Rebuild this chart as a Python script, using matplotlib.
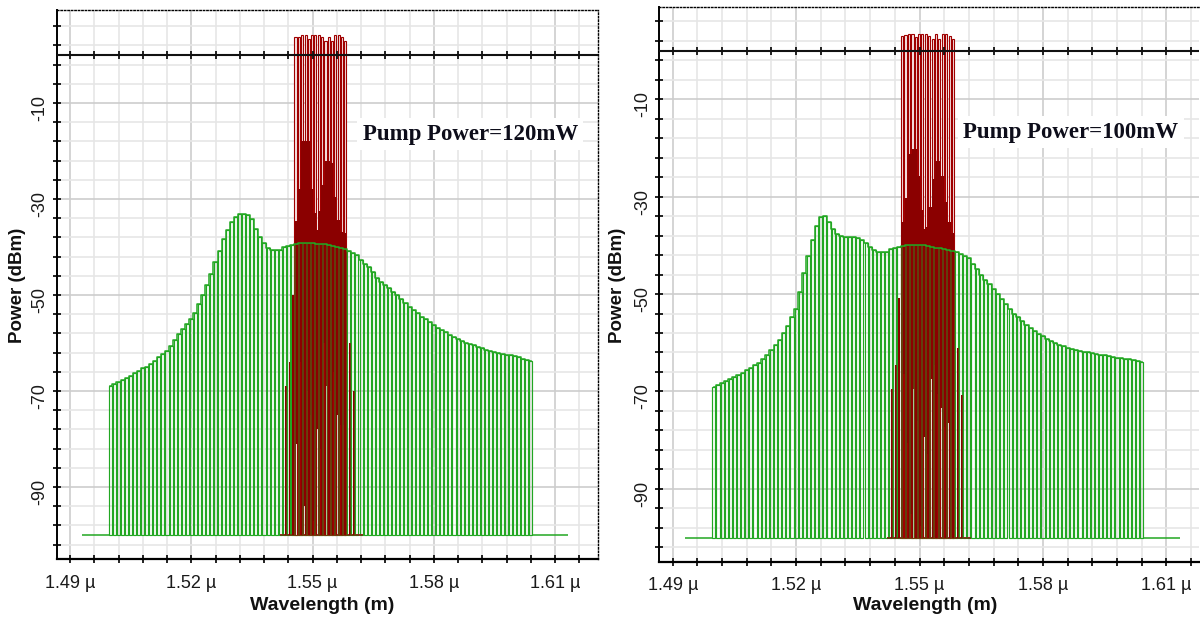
import numpy as np
import matplotlib.pyplot as plt
from matplotlib.transforms import ScaledTranslation

plt.rcParams['font.family'] = ['Liberation Sans', 'DejaVu Sans']

# noise floor bins (1 nm resolution), dBm
noise_wl = 1.500 + 0.001 * np.arange(105)
noise_120 = [-69.0, -68.6, -68.2, -67.8, -67.3, -66.8, -66.3, -65.8, -65.3, -64.9,
             -64.3, -63.7, -63.0, -62.3, -61.7, -60.6, -59.4, -58.2, -57.0, -56.0,
             -55.0, -53.7, -51.9, -50.1, -47.9, -45.6, -43.2, -40.8, -38.3, -36.5,
             -34.8, -33.8, -33.2, -33.1, -33.4, -34.1, -36.3, -38.0, -39.2, -40.2,
             -40.6, -40.6, -40.6, -40.1, -39.8, -39.5, -39.3, -39.1, -39.1, -39.2,
             -39.2, -39.3, -39.3, -39.4, -39.6, -39.8, -40.0, -40.2, -40.5, -40.8,
             -41.2, -41.6, -42.7, -43.6, -44.2, -45.2, -46.5, -47.2, -47.9, -48.6,
             -49.3, -50.0, -50.8, -51.6, -52.4, -53.1, -53.8, -54.5, -55.1, -55.7,
             -56.3, -56.8, -57.3, -57.8, -58.3, -58.7, -59.1, -59.5, -59.9, -60.2,
             -60.5, -60.8, -61.1, -61.4, -61.6, -61.8, -62.0, -62.2, -62.4, -62.6,
             -62.8, -63.0, -63.3, -63.5, -63.8]
noise_100 = [-69.0, -68.6, -68.2, -67.8, -67.4, -67.0, -66.6, -66.3, -65.7, -65.1,
             -64.6, -64.1, -63.4, -62.5, -61.5, -60.5, -59.5, -58.1, -56.5, -54.8,
             -53.0, -49.6, -45.6, -42.2, -38.9, -36.0, -34.2, -33.9, -35.2, -36.7,
             -37.6, -38.0, -38.2, -38.3, -38.3, -38.4, -38.9, -39.5, -40.3, -41.0,
             -41.3, -41.3, -41.3, -40.8, -40.5, -40.3, -40.1, -39.9, -39.9, -39.9,
             -39.9, -40.0, -40.1, -40.3, -40.5, -40.6, -40.8, -41.0, -41.2, -41.3,
             -41.8, -42.1, -42.7, -43.8, -44.9, -46.0, -47.1, -47.9, -48.9, -50.0,
             -51.1, -52.1, -53.1, -54.0, -54.8, -55.6, -56.4, -57.0, -57.6, -58.2,
             -58.7, -59.2, -59.6, -60.0, -60.4, -60.7, -61.0, -61.2, -61.4, -61.6,
             -61.8, -62.0, -62.1, -62.3, -62.5, -62.6, -62.8, -62.9, -63.1, -63.2,
             -63.3, -63.4, -63.5, -63.7, -63.9]
floor_level = -100
floor_span = [1.4930, 1.6132]

# WDM channels (um) and their peaks (dBm)
ch_wl = [1.5458, 1.5466, 1.5474, 1.5483, 1.5491, 1.5499, 1.5507, 1.5515,
         1.5524, 1.5532, 1.5540, 1.5548, 1.5556, 1.5565, 1.5573, 1.5581]
ch_120 = [3.7, 3.7, 4.1, 4.1, 3.3, 4.1, 4.1, 4.1, 3.7, 2.9, 3.7, 2.9, 4.1, 4.1, 3.7, 2.9]
ch_100 = [3.0, 3.2, 3.4, 3.4, 2.7, 3.4, 3.4, 3.4, 2.9, 2.3, 3.4, 2.3, 3.4, 3.4, 3.0, 2.3]

# mixing products between the channels: upper and lower level (dBm)
gap_wl = [1.5462, 1.5470, 1.5479, 1.5487, 1.5495, 1.5503, 1.5511, 1.5520,
          1.5528, 1.5536, 1.5544, 1.5552, 1.5561, 1.5569, 1.5577]
gap_hi_120 = [-34.5, -28, -18, -18, -28, -33, -36.5, -32.5, -27, -22, -22.5, -29.5, -34.3, -36.8, -37]
gap_lo_120 = [-81, -64, -94, -70, -75, -97, -78, -82, -60, -69, -70, -66, -75, -77, -77]
gap_hi_100 = [-35.2, -30.3, -21.3, -20.3, -25.8, -32.7, -36.7, -36.2, -32.2, -26.3, -22.6, -25.8, -31.2, -35.2, -37.5]
gap_lo_100 = [-66.5, -80.5, -95.2, -69.5, -76, -97.7, -79.4, -82.8, -67.5, -64.5, -70.5, -73.4, -77.4, -76.4, -78]

# side products outside the channel band
side_wl = [1.5434, 1.5443, 1.5451, 1.5593, 1.5603]
side_120 = [-69, -64, -50, -60, -70]
side_100 = [-69.6, -64.5, -50.9, -61.1, -70.7]

xtick_vals = [1.49, 1.52, 1.55, 1.58, 1.61]
xtick_text = ['1.49 \u00b5', '1.52 \u00b5', '1.55 \u00b5', '1.58 \u00b5', '1.61 \u00b5']
ytick_vals = [-10, -30, -50, -70, -90]
ytick_text = ['-10', '-30', '-50', '-70', '-90']

GREEN = '#22a722'
RED = '#8b0000'
W, H = 1200, 621

fig = plt.figure(figsize=(12, 6.21), dpi=100)


def pix_axes(x0, y0, x1, y1):
    return fig.add_axes([x0 / W, 1 - y1 / H, (x1 - x0) / W, (y1 - y0) / H])


def draw_panel(ax, noise, ch_pk, gap_hi, gap_lo, side, xlim, ylim, label, text_xy):
    # grid / tick positions inside the view
    xt = np.arange(1.49, xlim[1], 0.006)
    yt = np.arange(-102, ylim[1], 4)
    for v in xt:
        major = any(abs(v - m) < 1e-6 for m in xtick_vals)
        ax.axvline(v, color='#cdcdcd' if major else '#e6e6e6', lw=1.2, zorder=0.5)
    for v in yt:
        ax.axhline(v, color='#cdcdcd' if v in ytick_vals else '#e6e6e6', lw=1.2, zorder=0.5)

    # green noise bins
    ax.bar(noise_wl, np.array(noise) - floor_level, bottom=floor_level, width=0.00075,
           fill=False, edgecolor=GREEN, lw=0.85, zorder=3)
    ax.hlines(floor_level, floor_span[0], noise_wl[0] - 0.0004, color=GREEN, lw=1.1, zorder=3)
    ax.hlines(floor_level, noise_wl[-1] + 0.0004, floor_span[1], color=GREEN, lw=1.1, zorder=3)

    # red signal: channel outlines, solid lower part, mixing products
    hi = np.array(gap_hi)
    ch_solid = np.maximum(np.r_[hi[0], hi], np.r_[hi, hi[-1]])
    ax.hlines(floor_level, 1.5420, 1.5625, color=RED, lw=1.2, zorder=4)
    ax.bar(ch_wl, np.array(ch_pk) - floor_level, bottom=floor_level, width=0.00052,
           color='#f7e6e6', edgecolor='#a00000', lw=0.8, zorder=4)
    ax.bar(ch_wl, ch_solid - floor_level, bottom=floor_level, width=0.00046,
           color=RED, zorder=4.2)
    ax.bar(side_wl, np.array(side) - floor_level, bottom=floor_level, width=0.00045,
           color=RED, zorder=4.2)
    ax.bar(gap_wl, hi - np.array(gap_lo), bottom=gap_lo, width=0.00082,
           color=RED, zorder=4.3)

    # noise bins seen through the signal, and the top outline
    ax.bar(noise_wl, np.array(noise) - floor_level, bottom=floor_level, width=0.00075,
           fill=False, edgecolor=GREEN, lw=0.6, alpha=0.45, zorder=4.5)
    ax.step(noise_wl, noise, where='mid', color=GREEN, lw=1.1, zorder=4.6)

    # zero line with tick marks
    ax.axhline(0, color='#111111', lw=1.5, zorder=5)
    ax.plot(xt, np.zeros_like(xt), ls='none', marker='|', ms=6, mew=1.3,
            color='#111111', zorder=5)

    # axes styling
    for s in ['top', 'right']:
        ax.spines[s].set_linestyle((0, (1, 1.5)))
        ax.spines[s].set_linewidth(1.0)
    ax.spines['left'].set_linewidth(1.4)
    ax.spines['bottom'].set_linewidth(1.6)
    ax.set_xticks(xt)
    ax.set_xticklabels([xtick_text[xtick_vals.index(round(v, 3))]
                        if round(v, 3) in xtick_vals else '' for v in xt])
    ax.set_yticks(yt)
    ax.set_yticklabels([ytick_text[ytick_vals.index(v)] if v in ytick_vals else '' for v in yt])
    ax.set_xlim(*xlim)
    ax.set_ylim(*ylim)
    ax.tick_params(direction='inout', length=6, width=1.3, color='#111111',
                   labelsize=13, labelcolor='#1a1a1a')
    ax.tick_params(axis='x', pad=8)
    ax.tick_params(axis='y', pad=3, labelrotation=90)
    off = ScaledTranslation(0, -5 / 100, fig.dpi_scale_trans)
    for lab in ax.get_yticklabels():
        lab.set_va('center')
        lab.set_transform(lab.get_transform() + off)

    ax.text(text_xy[0], text_xy[1], label, transform=ax.transAxes, family='Liberation Serif',
            fontweight='bold', fontsize=16.5, color='#0d0d1a', ha='left', va='center',
            zorder=6, bbox=dict(facecolor='white', edgecolor='none', pad=4))


ax1 = pix_axes(56.7, 10, 598, 559.3)
draw_panel(ax1, noise_120, ch_120, gap_hi_120, gap_lo_120, side_120,
           (1.48671, 1.62063), (-105.06, 9.375), 'Pump Power=120mW', (0.565, 0.774))
ax2 = pix_axes(659.3, 7.3, 1199, 562.2)
draw_panel(ax2, noise_100, ch_100, gap_hi_100, gap_lo_100, side_100,
           (1.48674, 1.61793), (-105.06, 8.87), 'Pump Power=100mW', (0.563, 0.775))
ax2.spines['right'].set_visible(False)

for xc, yc in [(17.5, 285), (618, 285)]:
    fig.text(xc / W, 1 - yc / H, 'Power (dBm)', rotation=90, ha='center', va='center',
             fontweight='bold', fontsize=13.5, color='#111111')
for xc, yc in [(322, 606), (925, 606)]:
    fig.text(xc / W, 1 - yc / H, 'Wavelength (m)', ha='center', va='center',
             fontweight='bold', fontsize=14, color='#111111')

fig.savefig('out.png', dpi=100)
